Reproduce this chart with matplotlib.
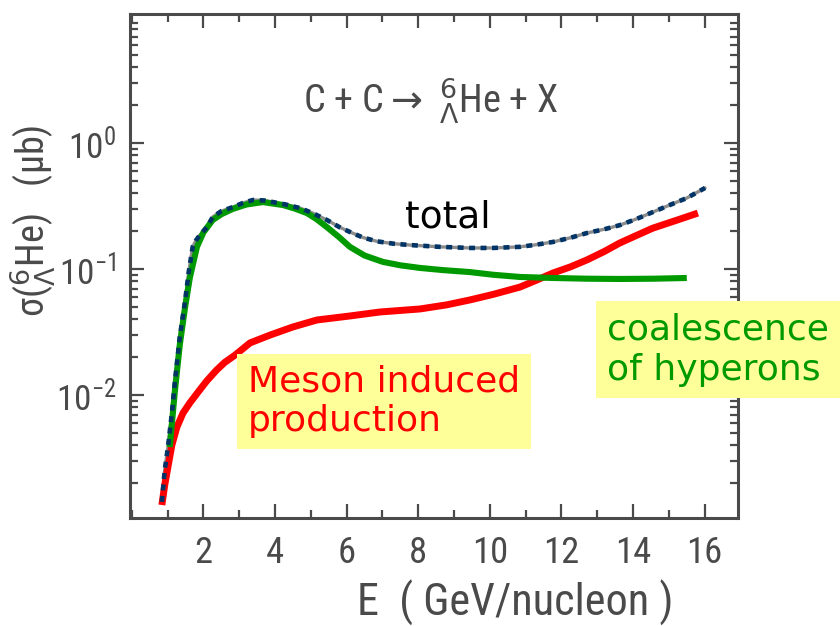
import matplotlib
matplotlib.use("Agg")
import matplotlib.pyplot as plt
from matplotlib import font_manager
from matplotlib.ticker import NullFormatter, MultipleLocator, FixedLocator, LogLocator

# ---------------- data ----------------
E_total = [0.84, 0.92, 1.01, 1.12, 1.20, 1.34, 1.48, 1.59, 1.70, 1.80, 1.90, 2.10,
           2.26, 2.50, 2.82, 3.10, 3.38, 3.70, 3.94, 4.30, 4.69, 5.05, 5.45, 5.80,
           6.09, 6.45, 6.84, 7.30, 7.77, 8.60, 9.44, 10.10, 10.84, 11.30, 11.76,
           12.25, 12.71, 13.20, 13.63, 14.10, 14.55, 15.00, 15.50, 16.01]
sig_total = [0.00142, 0.00254, 0.00386, 0.00719, 0.0124, 0.0288, 0.0537, 0.0946,
             0.150, 0.170, 0.186, 0.215, 0.259, 0.288, 0.310, 0.334, 0.353, 0.350,
             0.340, 0.325, 0.305, 0.278, 0.245, 0.215, 0.197, 0.178, 0.166, 0.159,
             0.155, 0.150, 0.147, 0.147, 0.150, 0.156, 0.164, 0.177, 0.193, 0.207,
             0.223, 0.250, 0.283, 0.320, 0.366, 0.440]

E_coal = [1.06, 1.20, 1.34, 1.48, 1.62, 1.82, 2.00, 2.26, 2.50, 2.82, 3.20, 3.66,
          4.22, 4.55, 4.89, 5.15, 5.45, 5.80, 6.09, 6.50, 7.01, 7.50, 8.05, 8.70,
          9.44, 10.10, 10.84, 11.76, 12.70, 13.63, 14.60, 15.50]
sig_coal = [0.00386, 0.0105, 0.0250, 0.0480, 0.0850, 0.150, 0.195, 0.245, 0.272,
            0.300, 0.325, 0.340, 0.322, 0.302, 0.278, 0.250, 0.215, 0.178, 0.150,
            0.128, 0.114, 0.107, 0.102, 0.0980, 0.0946, 0.0900, 0.0865, 0.0849,
            0.0838, 0.0834, 0.0838, 0.0849]

E_meson = [0.84, 0.92, 1.01, 1.12, 1.26, 1.43, 1.62, 1.90, 2.10, 2.37, 2.60, 2.88,
           3.30, 3.86, 4.50, 5.17, 6.09, 6.93, 8.05, 8.80, 9.44, 10.10, 10.84,
           11.30, 11.76, 12.25, 12.71, 13.20, 13.63, 14.10, 14.55, 15.20, 15.81]
sig_meson = [0.00134, 0.00193, 0.00269, 0.00401, 0.00557, 0.00719, 0.00865, 0.0110,
             0.0130, 0.0158, 0.0182, 0.0207, 0.0259, 0.0299, 0.0347, 0.0394, 0.0424,
             0.0456, 0.0482, 0.0520, 0.0568, 0.0630, 0.0719, 0.0815, 0.0929, 0.104,
             0.118, 0.138, 0.161, 0.185, 0.211, 0.243, 0.278]

x_ticks = [2, 4, 6, 8, 10, 12, 14, 16]
x_tick_labels = ["2", "4", "6", "8", "10", "12", "14", "16"]
y_ticks = [1e-2, 1e-1, 1e0]

# ---------------- fonts ----------------
ttf = font_manager.fontManager.ttflist
names = {f.name for f in ttf}


def pick_font():
    for c in ["Liberation Sans Narrow", "Roboto Condensed", "Noto Sans Condensed",
              "Open Sans Condensed", "DejaVu Sans Condensed", "Arial Narrow"]:
        if c in names:
            return dict(family=c), True
    for fam in ["DejaVu Sans", "Noto Sans", "Open Sans", "Roboto"]:
        if any(f.name == fam and str(f.stretch) in ("condensed", "semi-condensed",
                                                    "extra-condensed") for f in ttf):
            return dict(family=fam, stretch="condensed"), True
    if "Liberation Sans" in names:
        return dict(family="Liberation Sans"), False
    return dict(family="DejaVu Sans"), False


scan_font, narrow = pick_font()
plt.rcParams["font.family"] = scan_font["family"]
if "stretch" in scan_font:
    plt.rcParams["font.stretch"] = scan_font["stretch"]
k = 1.1 if narrow else 1.0

SCAN = "#4a4a4a"
ann_font = dict(family="DejaVu Sans", stretch="normal")

fig = plt.figure(figsize=(8.4, 6.26), dpi=100)
W, H = 840, 626
ax = fig.add_axes([130 / W, 1 - 518 / H, (738 - 130) / W, (518 - 14) / H])

# curves
ax.plot(E_total, sig_total, color="#8c8c8c", lw=2.4, zorder=3, solid_capstyle="round")
ax.plot(E_meson, sig_meson, color="#ff0000", lw=5.0, zorder=4, solid_capstyle="butt",
        solid_joinstyle="round")
ax.plot(E_coal, sig_coal, color="#009900", lw=4.4, zorder=5, solid_capstyle="butt",
        solid_joinstyle="round")
ax.plot(E_total, sig_total, color="#003366", lw=3.3, zorder=6,
        linestyle=(0, (1.3, 1.2)), dash_capstyle="butt")

ax.set_yscale("log")
ax.set_xlim(-0.05, 16.93)
ax.set_ylim(10 ** -2.976, 10 ** 1.024)

# ticks
ax.yaxis.set_major_locator(FixedLocator(y_ticks))
ax.yaxis.set_minor_locator(LogLocator(base=10, subs=range(2, 10), numticks=20))
ax.yaxis.set_minor_formatter(NullFormatter())
ax.xaxis.set_major_locator(FixedLocator(x_ticks))
ax.set_xticklabels(x_tick_labels)
ax.xaxis.set_minor_locator(MultipleLocator(1))

ax.tick_params(which="both", direction="in", top=True, right=True, colors=SCAN,
               width=1.6)
ax.tick_params(which="major", length=10)
ax.tick_params(which="minor", length=5.5)
ax.tick_params(axis="y", which="major", labelsize=23 * k, pad=10, labelcolor=SCAN)
ax.tick_params(axis="x", which="major", labelsize=24 * k, pad=12, labelcolor=SCAN)
for sp in ax.spines.values():
    sp.set_color(SCAN)
    sp.set_linewidth(2.2)

# title inside panel
ax.text(0.285, 0.804, r"C + C$\rightarrow$ ${}^{6}_{\Lambda}$He + X",
        transform=ax.transAxes, fontsize=25 * k, color=SCAN, ha="left", va="baseline")

# axis labels
fig.text(515 / W, 1 - 616 / H, "E  ( GeV/nucleon )", fontsize=29 * k, color=SCAN,
         ha="center", va="baseline")
fig.text(33 / W, 1 - 221 / H, r"σ(${}^{6}_{\Lambda}$He)   (μb)", fontsize=25 * k,
         color=SCAN, rotation=90, ha="center", va="center")

# annotations
ax.text((405 - 130) / 608, 1 - (227 - 14) / 504, "total", transform=ax.transAxes,
        fontsize=27, color="black", ha="left", va="baseline", zorder=8, **ann_font)

# (va='baseline' aligns the last line's baseline)
fig.text(248 / W, 1 - 431 / H, "Meson induced\nproduction", fontsize=26,
         color="#ff0000", ha="left", va="baseline", linespacing=1.2, zorder=10,
         bbox=dict(boxstyle="square,pad=0.3", fc="#ffff99", ec="none"), **ann_font)

fig.text(607 / W, 1 - 380 / H, "coalescence\nof hyperons", fontsize=26,
         color="#009900", ha="left", va="baseline", linespacing=1.25, zorder=10,
         bbox=dict(boxstyle="square,pad=0.3", fc="#ffff99", ec="none"), **ann_font)

fig.savefig("out.png", dpi=100, facecolor="white")
